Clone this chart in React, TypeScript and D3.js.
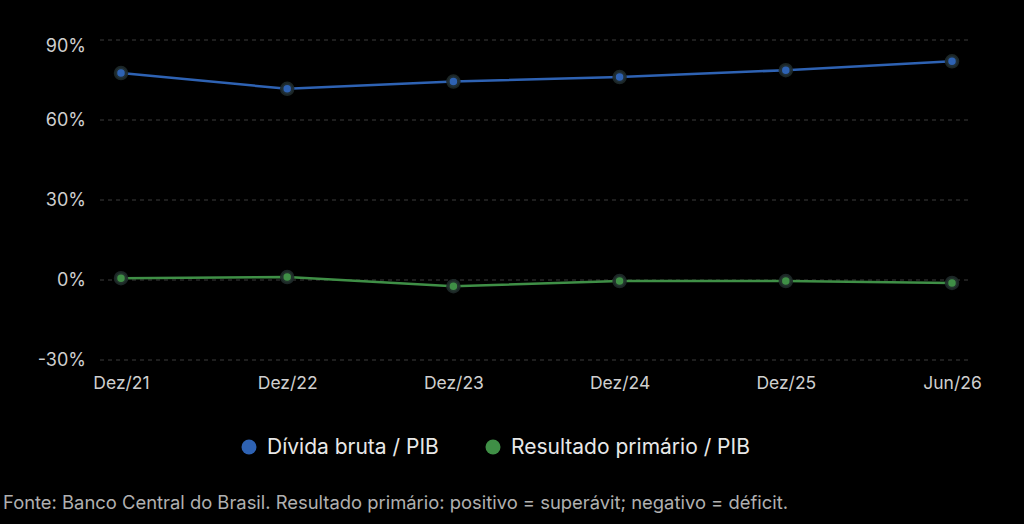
import * as d3 from "d3";
import { useRef, useEffect } from "react";

const periods = ["Dez/21", "Dez/22", "Dez/23", "Dez/24", "Dez/25", "Jun/26"];
const dividaBruta = [77.6, 71.7, 74.4, 76.1, 78.7, 82.0];
const resultadoPrimario = [0.7, 1.1, -2.3, -0.4, -0.4, -1.1];
const yTicks = [-30, 0, 30, 60, 90];
const seriesNames = ["Dívida bruta / PIB", "Resultado primário / PIB"];
const seriesColors = ["#2e62b3", "#3f8f46"];

const W = 1024;
const H = 524;
const font = "Inter, 'Noto Sans', sans-serif";

export default function App() {
  const gx = useRef(null);
  const gy = useRef(null);

  const x = d3.scalePoint().domain(periods).range([121, 952]);
  const y = d3.scaleLinear().domain([-30, 90]).range([360, 40]);

  const line = d3
    .line<number>()
    .x((_, i) => x(periods[i]))
    .y((d) => y(d));

  useEffect(() => {
    d3.select(gx.current)
      .call(d3.axisBottom(x).tickSize(0).tickPadding(0))
      .call((g) => g.select(".domain").remove())
      .call((g) =>
        g
          .selectAll(".tick text")
          .attr("fill", "#cfcfcf")
          .attr("font-size", 17.5)
          .attr("font-family", font)
          .attr("dy", "0.35em")
      );
    d3.select(gy.current)
      .call(
        d3
          .axisLeft(y)
          .tickValues(yTicks)
          .tickFormat((d) => `${d}%`)
          .tickSize(0)
          .tickPadding(0)
      )
      .call((g) => g.select(".domain").remove())
      .call((g) =>
        g
          .selectAll(".tick text")
          .attr("fill", "#cfcfcf")
          .attr("font-size", 18)
          .attr("font-family", font)
          // top label is kept inside the plot, as in the original
          .attr("y", (d) => (d === 90 ? 6 : 0))
      );
  });

  const series = [dividaBruta, resultadoPrimario];
  const legendX = [249, 493];

  return (
    <svg
      width={W}
      height={H}
      style={{ position: "absolute", left: 0, top: 0, background: "#000" }}
    >
      <rect width={W} height={H} fill="#000" />
      {yTicks.map((t) => (
        <line
          key={t}
          x1={100}
          x2={972}
          y1={y(t)}
          y2={y(t)}
          stroke="#3c3c3c"
          strokeWidth={1}
          strokeDasharray="4,4"
        />
      ))}
      <g ref={gy} transform="translate(86,0)" />
      <g ref={gx} transform="translate(0,383)" />
      {series.map((s, si) => (
        <g key={si}>
          <path
            d={line(s)}
            fill="none"
            stroke={seriesColors[si]}
            strokeWidth={2.5}
          />
          {s.map((v, i) => (
            <circle
              key={i}
              cx={x(periods[i])}
              cy={y(v)}
              r={5.5}
              fill={seriesColors[si]}
              stroke="#1f2a2a"
              strokeOpacity={0.9}
              strokeWidth={3.5}
            />
          ))}
        </g>
      ))}
      <g fontFamily={font} fontSize={21} fill="#e8e8e8">
        {seriesNames.map((name, i) => (
          <g key={name}>
            <circle cx={legendX[i]} cy={447} r={7.5} fill={seriesColors[i]} />
            <text x={legendX[i] + 18} y={447} dy="0.35em">
              {name}
            </text>
          </g>
        ))}
      </g>
      <text
        x={3}
        y={503}
        dy="0.35em"
        fontFamily={font}
        fontSize={18.4}
        fill="#b0b0b0"
      >
        Fonte: Banco Central do Brasil. Resultado primário: positivo = superávit; negativo = déficit.
      </text>
    </svg>
  );
}
